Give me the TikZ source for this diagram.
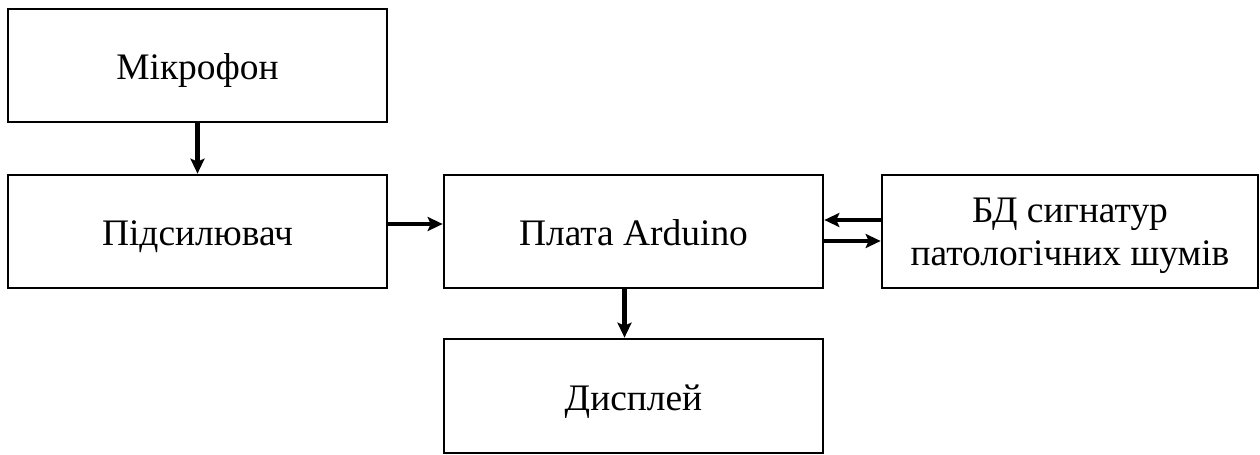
\documentclass[tikz,border=0pt]{standalone}
\usepackage{fontspec}
\setmainfont{Liberation Serif}
\usetikzlibrary{arrows.meta}

\begin{document}
\begin{tikzpicture}
        [font=\fontsize{21.3}{24.4}\selectfont]
        \tikzstyle{every node}=[rectangle, draw, line width=1.5pt,
        minimum width=7.58cm, minimum height=2.26cm, inner sep=2pt,
        text height=0.66cm, text depth=0.1cm]
        \tikzstyle{arr}=[line width=2.3pt,
        -{Stealth[length=0.3cm, width=0.28cm, inset=0.06cm]}]
        \useasboundingbox (0,0) rectangle (25.2,9.08);
        %-----blocks
         \node (mic)  at (3.95,7.77)  {Мікрофон};
         \node (amp)  at (3.95,4.45)  {Підсилювач};
         \node (ard)  at (12.67,4.45) {Плата Arduino};
         \node[minimum width=7.52cm, align=center,
           text height=, text depth=0pt] (db) at (21.4,4.45)
           {БД сигнатур\\патологічних шумів};
         \node[minimum height=2.28cm] (disp) at (12.67,1.16) {Дисплей};

        %-----links
          \draw[arr] (mic) -- (amp);
          \draw[arr] ([yshift=0.15cm]amp.east) -- ([yshift=0.15cm]ard.west);
          \draw[arr] ([xshift=-0.18cm]ard.south) -- ([xshift=-0.18cm]disp.north);
          \draw[arr] ([yshift=0.23cm]db.west) -- ([yshift=0.23cm]ard.east);
          \draw[arr] ([yshift=-0.19cm]ard.east) -- ([yshift=-0.19cm]db.west);

        \end{tikzpicture}
\end{document}
